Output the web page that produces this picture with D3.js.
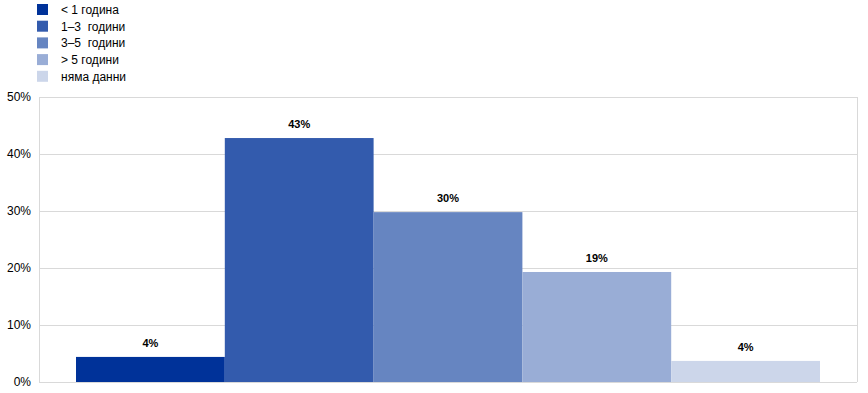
<html>
<head>
<meta charset="utf-8">
<title>chart</title>
<style>
body { margin: 0; background: #fff; }
text { font-family: Arial, "Liberation Sans", sans-serif; white-space: pre; }
</style>
</head>
<body>
<script src="https://cdn.jsdelivr.net/npm/d3@7"></script>
<script>
var categories = ["< 1 година", "1–3  години", "3–5  години", "> 5 години", "няма данни"];
var values = [4.4, 42.8, 29.8, 19.3, 3.7];
var labels = ["4%", "43%", "30%", "19%", "4%"];
var ticks = [0, 10, 20, 30, 40, 50];
var colors = ["#003299", "#335bad", "#6685c1", "#99add6", "#ccd6ea"];

var width = 868, height = 393;
var plotLeft = 39, plotRight = 857, plotTop = 97, plotBottom = 382;

var svg = d3.select("body").append("svg")
	.attr("width", width)
	.attr("height", height);

var y = d3.scaleLinear().domain([0, 50]).range([plotBottom, plotTop]);
var x = d3.scaleBand().domain(categories).range([76, 820]).padding(0);

// grid
svg.selectAll("line.grid")
	.data(ticks)
	.enter()
	.append("line")
	.attr("x1", plotLeft).attr("x2", plotRight)
	.attr("y1", function(d){ return Math.round(y(d)) + 0.5; })
	.attr("y2", function(d){ return Math.round(y(d)) + 0.5; })
	.attr("stroke", "#d9d9d9")
	.attr("stroke-width", 1);
svg.append("line").attr("x1", plotLeft + 0.5).attr("x2", plotLeft + 0.5).attr("y1", plotTop).attr("y2", plotBottom)
	.attr("stroke", "#d9d9d9");
svg.append("line").attr("x1", plotRight + 0.5).attr("x2", plotRight + 0.5).attr("y1", plotTop).attr("y2", plotBottom)
	.attr("stroke", "#d9d9d9");

// tick labels
svg.selectAll("text.tick")
	.data(ticks)
	.enter()
	.append("text")
	.attr("x", 31)
	.attr("y", function(d){ return y(d) + 4; })
	.attr("text-anchor", "end")
	.attr("font-size", 12)
	.attr("fill", "#000")
	.text(function(d){ return d + "%"; });

// bars
svg.selectAll("rect.bar")
	.data(values)
	.enter()
	.append("rect")
	.attr("x", function(d, i){ return x(categories[i]); })
	.attr("width", x.bandwidth())
	.attr("y", function(d){ return y(d); })
	.attr("height", function(d){ return plotBottom - y(d); })
	.attr("fill", function(d, i){ return colors[i]; });

svg.selectAll("text.val")
	.data(values)
	.enter()
	.append("text")
	.attr("x", function(d, i){ return x(categories[i]) + x.bandwidth() / 2; })
	.attr("y", function(d){ return y(d) - 10; })
	.attr("text-anchor", "middle")
	.attr("font-size", 11)
	.attr("font-weight", "bold")
	.attr("fill", "#000")
	.text(function(d, i){ return labels[i]; });

// legend
var lg = svg.selectAll("g.legend")
	.data(categories)
	.enter()
	.append("g")
	.attr("transform", function(d, i){ return "translate(37," + (4 + i * 16.7) + ")"; });
lg.append("rect")
	.attr("width", 11).attr("height", 11)
	.attr("fill", function(d, i){ return colors[i]; });
lg.append("text")
	.attr("x", 24).attr("y", 10)
	.attr("font-size", 12)
	.attr("fill", "#000")
	.text(function(d){ return d; });
</script>
</body>
</html>
